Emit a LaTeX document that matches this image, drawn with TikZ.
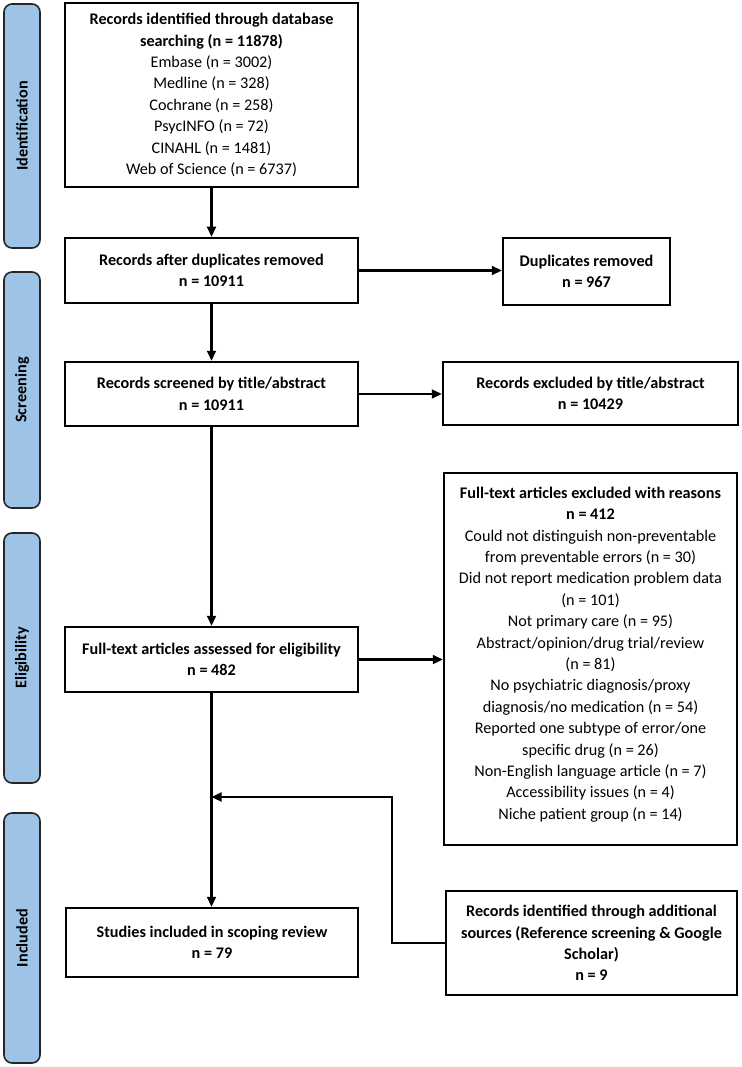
\documentclass[tikz,border=0pt]{standalone}
\usepackage{fontspec}
\setmainfont{Carlito}
\usetikzlibrary{arrows.meta}
\definecolor{stagefill}{HTML}{9DC3E6}

\begin{document}
\begin{tikzpicture}[
    x=1pt, y=-1pt,
    font=\fontsize{16.2}{21.4}\selectfont,
    box/.style={draw, line width=2.5pt, align=center, inner sep=0pt},
    boldbox/.style={box, font=\fontsize{16.2}{21.4}\selectfont\bfseries},
    stage/.style={draw=black!85, fill=stagefill, line width=1.6pt, rounded corners=8pt,
        rotate=90, inner sep=0pt, minimum height=36pt, font=\fontsize{16.2}{21.4}\selectfont\bfseries},
    flow/.style={line width=2.2pt, -{Triangle[length=10pt,width=9pt]}}
]
\useasboundingbox (0,0) rectangle (741,1067);

% stages
\node[stage, minimum width=244pt] (identbar) at (22,126) {Identification};
\node[stage, minimum width=236pt] (screenbar) at (22,390) {Screening};
\node[stage, minimum width=250pt] (eligbar) at (22,658) {Eligibility};
\node[stage, minimum width=250pt] (inclbar) at (22,938) {Included};

% main column
\node[box, minimum width=293pt, minimum height=184pt] (ident) at (211.5,95)
    {\textbf{Records identified through database}\\\textbf{searching (n = 11878)}\\
     Embase (n = 3002)\\Medline (n = 328)\\Cochrane (n = 258)\\
     PsycINFO (n = 72)\\CINAHL (n = 1481)\\Web of Science (n = 6737)};
\node[boldbox, minimum width=293pt, minimum height=65pt] (dedup) at (211.5,270.5)
    {Records after duplicates removed\\n = 10911};
\node[boldbox, minimum width=293pt, minimum height=64pt] (screen) at (211.5,394)
    {Records screened by title/abstract\\n = 10911};
\node[boldbox, minimum width=293pt, minimum height=65pt] (full) at (211.5,659.5)
    {Full-text articles assessed for eligibility\\n = 482};
\node[boldbox, minimum width=292pt, minimum height=69pt] (incl) at (212,942.5)
    {Studies included in scoping review\\n = 79};

% right column
\node[boldbox, minimum width=167pt, minimum height=67pt] (dup) at (586.5,271.5)
    {Duplicates removed\\n = 967};
\node[boldbox, minimum width=295pt, minimum height=63pt] (excl) at (590.5,393.5)
    {Records excluded by title/abstract\\n = 10429};
\node[box, minimum width=293pt, minimum height=372pt, text depth=12pt] (reasons) at (590.5,659)
    {\textbf{Full-text articles excluded with reasons}\\\textbf{n = 412}\\
     Could not distinguish non-preventable\\from preventable errors (n = 30)\\
     Did not report medication problem data\\(n = 101)\\
     Not primary care (n = 95)\\
     Abstract/opinion/drug trial/review\\(n = 81)\\
     No psychiatric diagnosis/proxy\\diagnosis/no medication (n = 54)\\
     Reported one subtype of error/one\\specific drug (n = 26)\\
     Non-English language article (n = 7)\\
     Accessibility issues (n = 4)\\
     Niche patient group (n = 14)};
\node[boldbox, minimum width=291pt, minimum height=104pt] (addl) at (591.5,943)
    {Records identified through additional\\sources (Reference screening \& Google\\Scholar)\\n = 9};

% connectors
\coordinate (join) at (full.south |- 0,797);
\draw[flow] (ident) -- (ident |- dedup.north);
\draw[flow] (dedup.east) -- (dedup.east -| dup.west);
\draw[flow] (dedup) -- (dedup |- screen.north);
\draw[flow] (screen.east) -- (screen.east -| excl.west);
\draw[flow] (screen) -- (screen |- full.north);
\draw[flow] (full.east) -- (full.east -| reasons.west);
\draw[flow] (full) -- (full |- incl.north);
\draw[flow] (addl.west) -- ++(-53,0) |- (join);
\end{tikzpicture}
\end{document}
